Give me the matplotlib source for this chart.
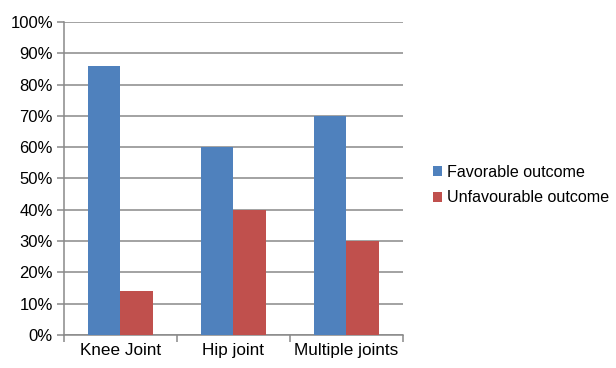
import matplotlib.pyplot as plt
import numpy as np

categories = ['Knee Joint', 'Hip joint', 'Multiple joints']
favorable = [86, 60, 70]
unfavourable = [14, 40, 30]
series_names = ['Favorable outcome', 'Unfavourable outcome']

plt.rcParams['font.family'] = ['Liberation Sans', 'DejaVu Sans']

fig = plt.figure(figsize=(6.16, 3.68), dpi=100)
ax = fig.add_axes([0.1039, 0.0897, 0.5503, 0.8505])

x = np.arange(len(categories))
width = 0.285  # Excel gap width 150%
grid_color = '#898989'

ax.bar(x - width / 2, favorable, width, color='#4F81BD', label=series_names[0], zorder=3)
ax.bar(x + width / 2, unfavourable, width, color='#C0504D', label=series_names[1], zorder=3)

ax.set_xlim(-0.5, len(categories) - 0.5)
ax.set_ylim(0, 100)
ax.set_yticks(range(0, 101, 10))
ax.set_yticklabels([f'{v}%' for v in range(0, 101, 10)])
ax.yaxis.grid(True, color=grid_color, linewidth=1.1, zorder=0)

# category labels in the middle, tick marks on the boundaries
ax.set_xticks(x)
ax.set_xticklabels(categories)
ax.set_xticks(np.arange(-0.5, len(categories), 1), minor=True)
ax.tick_params(axis='x', which='major', length=0, pad=6, labelsize=12.3)
ax.tick_params(axis='x', which='minor', length=5, color=grid_color, width=1.1)
ax.tick_params(axis='y', length=5, color=grid_color, width=1.1, labelsize=12, pad=3)

for side in ['top', 'right']:
    ax.spines[side].set_visible(False)
for side in ['left', 'bottom']:
    ax.spines[side].set_color(grid_color)
    ax.spines[side].set_linewidth(1.1)

fig.legend(loc='center left', bbox_to_anchor=(0.692, 0.497), frameon=False,
           fontsize=11.6, handlelength=0.6, handleheight=0.6, handletextpad=0.3,
           labelspacing=0.65, borderaxespad=0)

plt.savefig('out.png', dpi=100)
